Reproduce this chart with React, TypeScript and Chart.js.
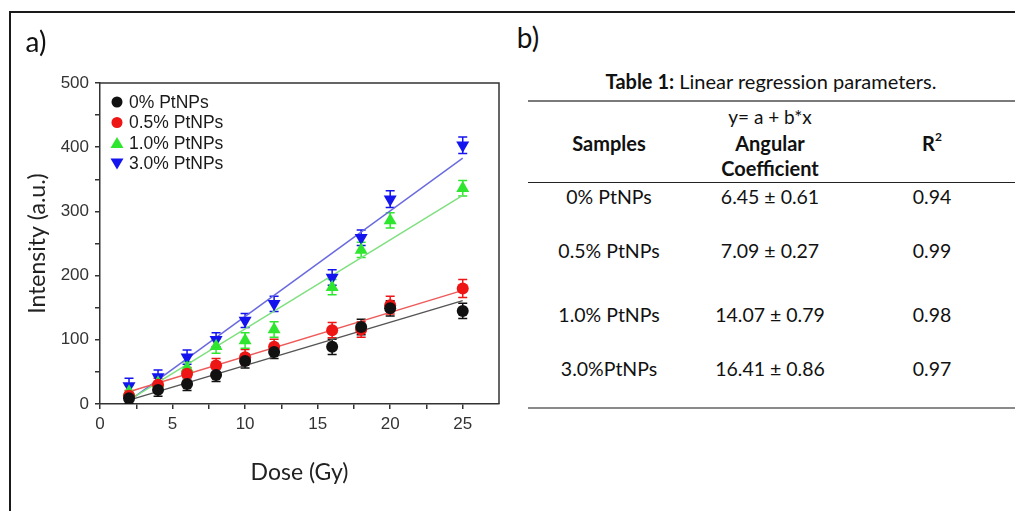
import React, { useEffect, useRef } from 'react';
import { Chart, registerables } from 'chart.js';
Chart.register(...registerables);

// ---- data ----
const doses = [2, 4, 6, 8, 10, 12, 16, 18, 20, 25];
const seriesLabels = ['0% PtNPs', '0.5% PtNPs', '1.0% PtNPs', '3.0% PtNPs'];
const int0 = [9, 22, 31, 45, 67, 81, 89, 120, 149, 145];
const int05 = [13, 30, 47, 60, 73, 89, 115, 116, 154, 180];
const int10 = [19, 33, 56, 90, 99, 116, 182, 240, 286, 336];
const int30 = [28, 42, 73, 100, 130, 156, 197, 259, 319, 403];
const err0 = [8, 10, 10, 10, 11, 10, 12, 12, 12, 12];
const err05 = [8, 10, 10, 11, 12, 12, 12, 12, 14, 14];
const err10 = [10, 10, 10, 11, 12, 12, 12, 12, 12, 12];
const err30 = [12, 11, 11, 11, 11, 12, 12, 12, 13, 13];
const fitX = [2, 25];
const fit0 = [6, 161];
const fit05 = [19, 177];
const fit10 = [6, 325];
const fit30 = [5, 383];

const tableSamples = ['0% PtNPs', '0.5% PtNPs', '1.0% PtNPs', '3.0%PtNPs'];
const tableCoef = ['6.45 ± 0.61', '7.09 ± 0.27', '14.07 ± 0.79', '16.41 ± 0.86'];
const tableR2 = ['0.94', '0.99', '0.98', '0.97'];

const pointColors = ['#111111', '#ee1515', '#2fe62f', '#1414ee'];
const lineColors = ['#555555', '#ee5a5a', '#7fe07f', '#6a6ae0'];
const pointStyles = ['circle', 'circle', 'triangle', 'triangle'];
const pointRotations = [0, 0, 0, 180];
const pointRadii = [6, 6, 7.5, 7.5];

const intensities = [int0, int05, int10, int30];
const errors = [err0, err05, err10, err30];
const fits = [fit0, fit05, fit10, fit30];

const errorBarPlugin = {
  id: 'errbars',
  beforeDatasetsDraw(chart: any) {
    const { ctx } = chart;
    const x = chart.scales.x;
    const y = chart.scales.y;
    chart.data.datasets.forEach((ds: any) => {
      if (!ds.errs) return;
      ctx.save();
      ctx.strokeStyle = ds.borderColor;
      ctx.lineWidth = 1.5;
      ds.data.forEach((p: any, j: number) => {
        const px = x.getPixelForValue(p.x);
        const top = y.getPixelForValue(p.y + ds.errs[j]);
        const bot = y.getPixelForValue(p.y - ds.errs[j]);
        ctx.beginPath();
        ctx.moveTo(px, top); ctx.lineTo(px, bot);
        ctx.moveTo(px - 4.5, top); ctx.lineTo(px + 4.5, top);
        ctx.moveTo(px - 4.5, bot); ctx.lineTo(px + 4.5, bot);
        ctx.stroke();
      });
      ctx.restore();
    });
  },
};

const framePlugin = {
  id: 'frame',
  afterDraw(chart: any) {
    const { ctx, chartArea: a } = chart;
    ctx.save();
    ctx.strokeStyle = '#333';
    ctx.lineWidth = 1.5;
    ctx.beginPath();
    ctx.moveTo(a.left, a.top); ctx.lineTo(a.right, a.top); ctx.lineTo(a.right, a.bottom);
    ctx.stroke();
    ctx.restore();
  },
};

const legendPlugin = {
  id: 'insideLegend',
  afterDraw(chart: any) {
    const { ctx, chartArea: a } = chart;
    const rows = chart.data.datasets.filter((d: any) => d.errs);
    ctx.save();
    rows.forEach((ds: any, i: number) => {
      const cx = a.left + 17;
      const cy = a.top + 19 + i * 20.5;
      ctx.fillStyle = ds.backgroundColor;
      ctx.beginPath();
      const r = 5.5;
      if (ds.pointStyle === 'circle') {
        ctx.arc(cx, cy, r, 0, Math.PI * 2);
      } else if (ds.pointRotation === 180) {
        ctx.moveTo(cx - 6.5, cy - 5); ctx.lineTo(cx + 6.5, cy - 5); ctx.lineTo(cx, cy + 6);
        ctx.closePath();
      } else {
        ctx.moveTo(cx - 6.5, cy + 5); ctx.lineTo(cx + 6.5, cy + 5); ctx.lineTo(cx, cy - 6);
        ctx.closePath();
      }
      ctx.fill();
      ctx.fillStyle = '#1a1a1a';
      ctx.font = '17.5px "Liberation Sans", Arial, sans-serif';
      ctx.textBaseline = 'middle';
      ctx.textAlign = 'left';
      ctx.fillText(ds.label, cx + 12, cy + 1);
    });
    ctx.restore();
  },
};

function PlotA() {
  const ref = useRef<HTMLCanvasElement>(null);
  useEffect(() => {
    const datasets: any[] = [];
    seriesLabels.forEach((lab, i) => {
      datasets.push({
        type: 'scatter',
        label: lab,
        data: doses.map((d, j) => ({ x: d, y: intensities[i][j] })),
        errs: errors[i],
        backgroundColor: pointColors[i],
        borderColor: pointColors[i],
        pointStyle: pointStyles[i],
        pointRotation: pointRotations[i],
        pointRadius: pointRadii[i],
        pointBorderWidth: 0,
        showLine: false,
        order: 1,
      });
    });
    seriesLabels.forEach((lab, i) => {
      datasets.push({
        type: 'line',
        label: lab + ' fit',
        data: fitX.map((d, j) => ({ x: d, y: fits[i][j] })),
        borderColor: lineColors[i],
        borderWidth: 1.5,
        pointRadius: 0,
        fill: false,
        order: 2,
      });
    });
    const tickFont = { family: '"Liberation Sans", Arial, sans-serif', size: 17 };
    const titleFont = { family: 'Lato, sans-serif', size: 23 };
    const chart = new Chart(ref.current!, {
      type: 'scatter',
      data: { datasets },
      options: {
        responsive: false,
        animation: false,
        layout: { padding: { left: 24, top: 83, right: 16, bottom: 25 } },
        plugins: { legend: { display: false }, tooltip: { enabled: false } },
        scales: {
          x: {
            type: 'linear',
            min: 0,
            max: 27.5,
            afterFit: (s: any) => { s.height = 82; },
            afterBuildTicks: (s: any) => { s.ticks = s.ticks.filter((t: any) => t.value <= 25.01); },
            ticks: {
              stepSize: 2.5,
              autoSkip: false,
              maxRotation: 0,
              padding: 5,
              color: '#333',
              font: tickFont,
              callback: (v: any) => (Number(v) % 5 === 0 ? String(v) : ''),
            },
            grid: { drawOnChartArea: false, drawTicks: true, tickLength: 5, color: '#333', lineWidth: 1.5 },
            border: { display: true, color: '#333', width: 1.5 },
            title: { display: true, text: 'Dose (Gy)', font: titleFont, color: '#222', padding: 0 },
          },
          y: {
            type: 'linear',
            min: 0,
            max: 500,
            afterFit: (s: any) => { s.width = 76; },
            ticks: {
              stepSize: 50,
              autoSkip: false,
              padding: 6,
              color: '#333',
              font: tickFont,
              callback: (v: any) => (Number(v) % 100 === 0 ? String(v) : ''),
            },
            grid: { drawOnChartArea: false, drawTicks: true, tickLength: 5, color: '#333', lineWidth: 1.5 },
            border: { display: true, color: '#333', width: 1.5 },
            title: { display: true, text: 'Intensity (a.u.)', font: titleFont, color: '#222', padding: 0 },
          },
        },
      } as any,
      plugins: [errorBarPlugin, framePlugin, legendPlugin],
    });
    return () => chart.destroy();
  }, []);
  return (
    <canvas
      ref={ref}
      width={515}
      height={511}
      style={{ position: 'absolute', left: 0, top: 0, width: 515, height: 511 }}
    />
  );
}

function T({ x, y, children, style }: any) {
  return (
    <div
      style={{
        position: 'absolute',
        left: x,
        top: y,
        transform: 'translate(-50%, -50%)',
        whiteSpace: 'nowrap',
        lineHeight: 1.2,
        ...style,
      }}
    >
      {children}
    </div>
  );
}

export default function App() {
  const rowY = [197, 251, 315, 369];
  const colX = [609, 770, 932];
  const font = { fontFamily: 'Lato, sans-serif', fontSize: 19.5, color: '#111' };
  return (
    <div
      style={{
        position: 'absolute',
        left: 0,
        top: 0,
        width: 1015,
        height: 511,
        background: '#fff',
        overflow: 'hidden',
        ...font,
      }}
    >
      <PlotA />
      {/* outer frame */}
      <div style={{ position: 'absolute', left: 9, top: 11, width: 2, height: 500, background: '#1a1a1a' }} />
      <div style={{ position: 'absolute', left: 9, top: 11, width: 1006, height: 2, background: '#1a1a1a' }} />
      <T x={36} y={42} style={{ fontSize: 28 }}>a)</T>
      <T x={528} y={38} style={{ fontSize: 28 }}>b)</T>

      <T x={771} y={81} style={{ fontSize: 20 }}>
        <b>Table 1:</b> Linear regression parameters.
      </T>
      <div style={{ position: 'absolute', left: 528, top: 100, width: 487, height: 2, background: '#7a7a7a' }} />
      <T x={colX[1]} y={117} style={{ fontSize: 19 }}>y= a + b*x</T>
      <T x={colX[0]} y={143} style={{ fontWeight: 'bold', fontSize: 20 }}>Samples</T>
      <T x={colX[1]} y={143} style={{ fontWeight: 'bold', fontSize: 20 }}>Angular</T>
      <T x={colX[1]} y={168} style={{ fontWeight: 'bold', fontSize: 20 }}>Coefficient</T>
      <T x={colX[2]} y={143} style={{ fontWeight: 'bold', fontSize: 20 }}>
        R<sup style={{ fontSize: 12, verticalAlign: 'top', position: 'relative', top: -1 }}>2</sup>
      </T>
      <div style={{ position: 'absolute', left: 528, top: 182, width: 487, height: 1, background: '#222' }} />
      {tableSamples.map((s, i) => (
        <React.Fragment key={s}>
          <T x={colX[0]} y={rowY[i]}>{s}</T>
          <T x={colX[1]} y={rowY[i]}>{tableCoef[i]}</T>
          <T x={colX[2]} y={rowY[i]}>{tableR2[i]}</T>
        </React.Fragment>
      ))}
      <div style={{ position: 'absolute', left: 528, top: 407, width: 487, height: 2, background: '#8a8a8a' }} />
    </div>
  );
}
